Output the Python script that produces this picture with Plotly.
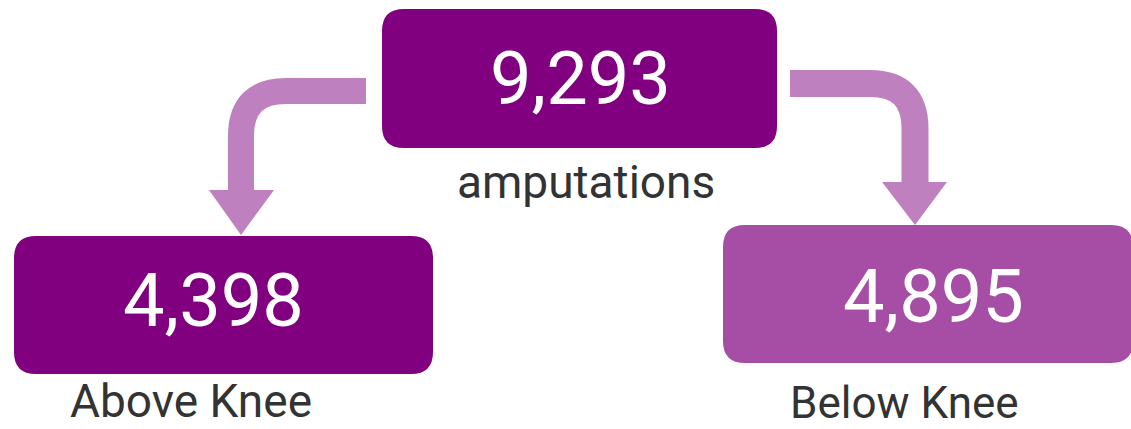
import plotly.graph_objects as go

# ---- data ----
labels = ["amputations", "Above Knee", "Below Knee"]
values = [9293, 4398, 4895]

# ---- style ----
W, H = 1131, 429
dark = "#800080"
mid = "#A64EA5"
arrow_c = "#BF80BF"
text_c = "#333333"
font = "Roboto, Arial, sans-serif"

def rrect(x0, y0, x1, y1, r):
    return (f"M {x0+r},{y0} L {x1-r},{y0} Q {x1},{y0} {x1},{y0+r} "
            f"L {x1},{y1-r} Q {x1},{y1} {x1-r},{y1} L {x0+r},{y1} "
            f"Q {x0},{y1} {x0},{y1-r} L {x0},{y0+r} Q {x0},{y0} {x0+r},{y0} Z")

boxes = [
    (382, 9, 777, 148, dark),
    (14, 236, 433, 374, dark),
    (723, 225, 1133, 363, mid),
]

shapes = []
for x0, y0, x1, y1, c in boxes:
    shapes.append(dict(type="path", xref="x", yref="y", path=rrect(x0, y0, x1, y1, 22),
                       fillcolor=c, line=dict(width=0), layer="below"))

# arrows (thick stroked paths + heads)
r = 45
shapes.append(dict(type="path", xref="x", yref="y",
                   path=f"M 366,91 L {241+r},91 Q 241,91 241,{91+r} L 241,191",
                   line=dict(color=arrow_c, width=26)))
shapes.append(dict(type="path", xref="x", yref="y",
                   path="M 209,190 L 274,190 L 241,235 Z",
                   fillcolor=arrow_c, line=dict(width=0)))
shapes.append(dict(type="path", xref="x", yref="y",
                   path=f"M 790,83.5 L {915-r},83.5 Q 915,83.5 915,{83.5+r} L 915,183",
                   line=dict(color=arrow_c, width=27)))
shapes.append(dict(type="path", xref="x", yref="y",
                   path="M 882,182 L 947,182 L 915,225 Z",
                   fillcolor=arrow_c, line=dict(width=0)))

num_pos = [(580, 78), (213, 300), (933, 296)]
lab_pos = [(586, 182), (191, 401), (904, 403)]
lab_size = [46, 46, 44]

annotations = []
for v, (x, y) in zip(values, num_pos):
    annotations.append(dict(x=x, y=y, xref="x", yref="y", text=f"{v:,}", showarrow=False,
                            xanchor="center", yanchor="middle",
                            font=dict(family=font, size=74, color="white")))
for t, (x, y), s in zip(labels, lab_pos, lab_size):
    annotations.append(dict(x=x, y=y, xref="x", yref="y", text=t, showarrow=False,
                            xanchor="center", yanchor="middle",
                            font=dict(family=font, size=s, color=text_c)))

fig = go.Figure()
fig.update_layout(
    width=W, height=H,
    margin=dict(l=0, r=0, t=0, b=0),
    paper_bgcolor="white", plot_bgcolor="white",
    xaxis=dict(range=[0, W], visible=False, fixedrange=True),
    yaxis=dict(range=[H, 0], visible=False, fixedrange=True),
    shapes=shapes, annotations=annotations, showlegend=False,
)
fig.write_html("out.html", config={"displayModeBar": False},
               post_script="document.body.style.margin='0';document.body.style.overflow='hidden';")
